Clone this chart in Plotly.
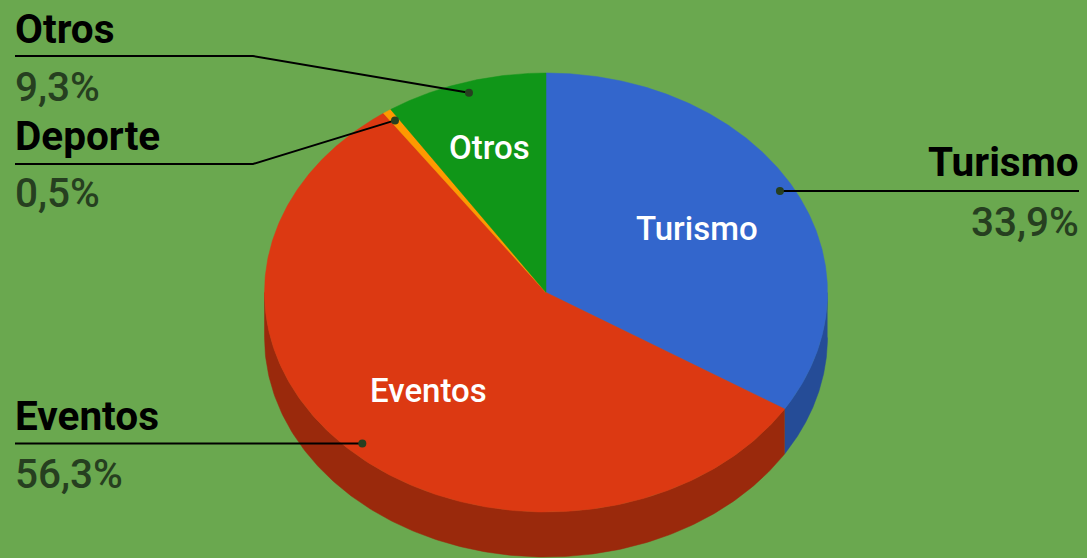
import numpy as np
import plotly.graph_objects as go

# Data
categories = ["Turismo", "Eventos", "Deporte", "Otros"]
values = [33.9, 56.3, 0.5, 9.3]
percent_labels = ["33,9%", "56,3%", "0,5%", "9,3%"]
top_colors = ["#3366cc", "#dc3912", "#ff9900", "#109618"]
side_colors = ["#254c97", "#9a290c", "#b36b00", "#0b6911"]

# Layout of the tilted pie, in page pixels
W, H = 1087, 558
CX, CY, RX, RY, DEPTH = 546, 292.5, 281.5, 219.5, 45
BG = "#6aa84f"
VALUE_COLOR = "#263f20"


def pt(t, r=1.0, dy=0.0):
    return CX + RX * r * np.sin(t), CY - RY * r * np.cos(t) + dy


fig = go.Figure()
fracs = np.array(values) / sum(values) * 2 * np.pi
ends = np.cumsum(fracs)
starts = ends - fracs

# Side walls (front half of the rim only)
for s, e, c, name in zip(starts, ends, side_colors, categories):
    a, b = max(s, np.pi / 2), min(e, 3 * np.pi / 2)
    if a >= b:
        continue
    t = np.linspace(a, b, 200)
    x0, y0 = pt(t)
    x1, y1 = pt(t[::-1], dy=DEPTH)
    fig.add_trace(go.Scatter(x=np.r_[x0, x1], y=np.r_[y0, y1], fill="toself", fillcolor=c,
                             mode="lines", line=dict(width=0.5, color=c), hoverinfo="skip", showlegend=False))

# Top faces
for s, e, c, name in zip(starts, ends, top_colors, categories):
    t = np.linspace(s, e, 300)
    x, y = pt(t)
    fig.add_trace(go.Scatter(x=np.r_[CX, x, CX], y=np.r_[CY, y, CY], fill="toself", fillcolor=c,
                             mode="lines", line=dict(width=0.5, color=c), name=name, showlegend=False))

# Leader lines: horizontal run from the label (x start, y, elbow x) to the slice point
leaders = {
    "Turismo": (1079, 191, 1079),
    "Eventos": (15, 443.5, 15),
    "Deporte": (15, 164, 253),
    "Otros": (15, 56, 253),
}
mids = (starts + ends) / 2
for name, m in zip(categories, mids):
    px, py = pt(m, 0.95)
    x0, y0, xe = leaders[name]
    if name in ("Turismo", "Eventos"):
        py = y0
    fig.add_trace(go.Scatter(x=[x0, xe, px], y=[y0, y0, py], mode="lines",
                             line=dict(color="#000000", width=2), hoverinfo="skip", showlegend=False))
    fig.add_trace(go.Scatter(x=[px], y=[py], mode="markers",
                             marker=dict(color="#263f20", size=8), hoverinfo="skip", showlegend=False))

FONT = "Roboto"


def note(x, y, text, size, color, anchor="left", weight="normal"):
    fig.add_annotation(x=x, y=y, text=text, showarrow=False, xanchor=anchor, yanchor="middle",
                       borderpad=0, borderwidth=0,
                       font=dict(family=FONT, size=size, color=color, weight=weight))


# Outside labels
label_pos = {"Turismo": (1079, 162, 222, "right"), "Eventos": (15, 416, 474, "left"),
             "Deporte": (15, 136, 193, "left"), "Otros": (15, 29, 87, "left")}
for name, pct in zip(categories, percent_labels):
    x, y1, y2, a = label_pos[name]
    note(x, y1, name, 40.5, "#000000", a, "bold")
    note(x, y2, pct, 40.5, VALUE_COLOR, a, 500)

# Inside labels
inside = {"Turismo": (697, 228), "Eventos": (428, 390), "Otros": (489, 147)}
for name, (x, y) in inside.items():
    note(x, y, name, 33, "#ffffff", "center", 500)

fig.update_layout(width=W, height=H, margin=dict(l=0, r=0, t=0, b=0), paper_bgcolor=BG, plot_bgcolor=BG,
                  xaxis=dict(range=[0, W], visible=False, fixedrange=True),
                  yaxis=dict(range=[H, 0], visible=False, fixedrange=True), showlegend=False)
fig.write_html("out.html", config=dict(displayModeBar=False),
               post_script="document.body.style.margin='0';document.body.style.overflow='hidden';")
